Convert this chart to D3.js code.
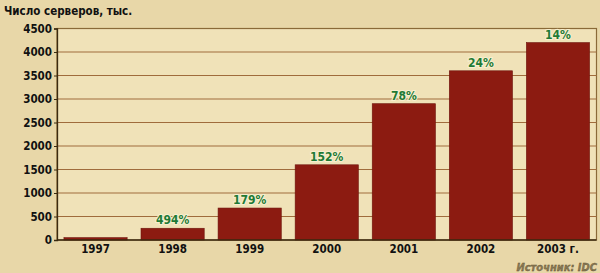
<!DOCTYPE html>
<html><head><meta charset="utf-8">
<script src="https://cdn.jsdelivr.net/npm/d3@7"></script>
<style>
html,body{margin:0;padding:0;background:#e8d7a8;}
svg{display:block;}
text{font-family:"DejaVu Sans Condensed","Liberation Sans Narrow",sans-serif;font-weight:bold;}
</style></head>
<body>
<svg id="c" width="600" height="273"></svg>
<script>
const years = ["1997","1998","1999","2000","2001","2002","2003 г."];
const servers = [50, 250, 680, 1600, 2900, 3600, 4200];
const growth = ["", "494%", "179%", "152%", "78%", "24%", "14%"];
const yTicks = [0,500,1000,1500,2000,2500,3000,3500,4000,4500];
const title = "Число серверов, тыс.";
const source = "Источник: IDC";

const FF = '"DejaVu Sans Condensed","Liberation Sans Narrow",sans-serif';
const svg = d3.select("#c");
const L = 57, R = 596.5, T = 28.5, B = 240;

const x = d3.scaleBand().domain(years).range([L, R]).paddingInner(0.18).paddingOuter(0.09);
const y = d3.scaleLinear().domain([0, 4500]).range([B, T]);

svg.append("rect").attr("x", L).attr("y", T).attr("width", R - L).attr("height", B - T)
  .attr("fill", "#f0e2b8").attr("stroke", "#8a6a38").attr("stroke-width", 1.2);

svg.append("g").selectAll("line").data(yTicks.slice(1, -1)).join("line")
  .attr("x1", L).attr("x2", R).attr("y1", d => y(d)).attr("y2", d => y(d))
  .attr("stroke", "#a06c3c").attr("stroke-width", 1.2);

const rows = years.map((yr, i) => ({yr, v: servers[i], g: growth[i]}));

svg.append("g").selectAll("rect").data(rows).join("rect")
  .attr("x", d => x(d.yr)).attr("width", x.bandwidth())
  .attr("y", d => y(d.v)).attr("height", d => B - y(d.v))
  .attr("fill", "#8c1b11").attr("stroke", "#6e140c").attr("stroke-width", 0.6);

const yAxis = d3.axisLeft(y).tickValues(yTicks).tickFormat(d3.format("d")).tickSize(3).tickPadding(2);
const gy = svg.append("g").attr("transform", `translate(${L},0)`).call(yAxis);
gy.select(".domain").attr("stroke", "#3a2a10").attr("stroke-width", 1.3);
gy.selectAll(".tick line").attr("stroke", "#3a2a10");
gy.selectAll(".tick text").attr("fill", "#111").attr("font-size", 11.5)
  .style("font-family", FF).style("font-weight", "bold");

svg.append("line").attr("x1", L).attr("x2", R).attr("y1", B).attr("y2", B)
  .attr("stroke", "#3a2a10").attr("stroke-width", 1.3);

const xAxis = d3.axisBottom(x).tickSize(0).tickPadding(5);
const gx = svg.append("g").attr("transform", `translate(0,${B})`).call(xAxis);
gx.select(".domain").remove();
gx.selectAll(".tick text").attr("fill", "#111").attr("font-size", 11.5)
  .style("font-family", FF).style("font-weight", "bold");

svg.append("g").selectAll("text").data(rows.filter(d => d.g)).join("text")
  .attr("x", d => x(d.yr) + x.bandwidth() / 2)
  .attr("y", d => y(d.v) - 4)
  .attr("text-anchor", "middle")
  .attr("font-size", 12)
  .attr("fill", "#1f7a35")
  .attr("stroke", "#f6efcf").attr("stroke-width", 2).attr("paint-order", "stroke")
  .text(d => d.g);

svg.append("text").attr("x", 4).attr("y", 15).attr("font-size", 11.5).attr("fill", "#111").text(title);

svg.append("text").attr("x", 597).attr("y", 271).attr("text-anchor", "end")
  .attr("font-size", 11).attr("font-style", "italic").attr("fill", "#8a7a55")
  .attr("stroke", "#5e4f30").attr("stroke-width", 0.3).text(source);
</script>
</body></html>
